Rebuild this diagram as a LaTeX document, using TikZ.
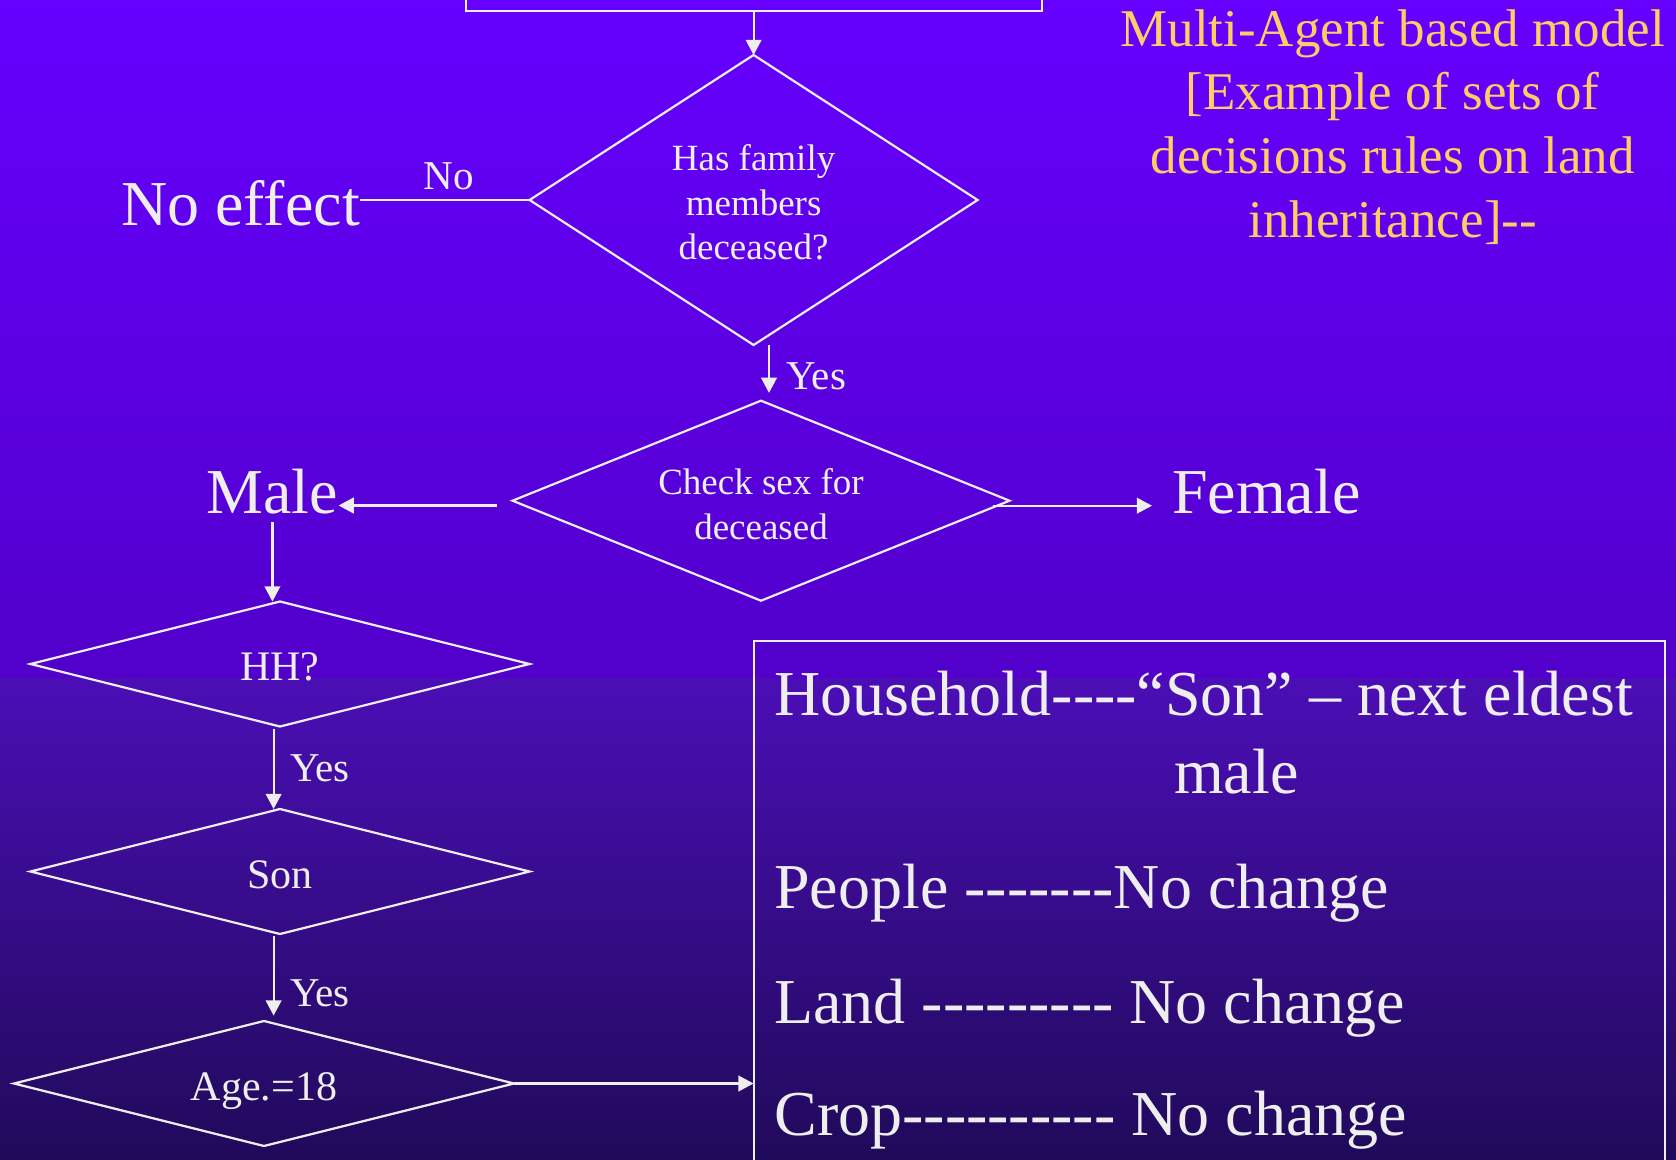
\documentclass[tikz,border=0pt]{standalone}
\usepackage{fontspec}
\setmainfont{Liberation Serif}[Ligatures=TeXOff]
\usetikzlibrary{shapes.geometric,arrows.meta}
\definecolor{fg}{HTML}{EEEEEE}
\definecolor{ttl}{HTML}{FFCC66}
\definecolor{bgA}{HTML}{6600FF}
\definecolor{bgB}{HTML}{6300F8}
\definecolor{bgC}{HTML}{5200CA}
\definecolor{bgD}{HTML}{4B0EB6}
\definecolor{bgE}{HTML}{200A5A}
\newcommand{\lowr}[2]{\raisebox{-#1}[\height][\depth]{#2}}
\begin{document}
\begin{tikzpicture}[x=0.5pt,y=-0.5pt,
  line/.style={draw=fg, line width=1.1pt},
  arr/.style={line, -{Triangle[length=7.6pt,width=7.8pt]}},
  dia/.style={diamond, draw=fg, line width=1.1pt, inner sep=0pt, outer sep=0pt, text=fg, align=center},
  lbl/.style={text=fg, inner sep=0pt, font=\fontsize{20.5}{24}\selectfont},
  big/.style={text=fg, inner sep=0pt, font=\fontsize{32}{38}\selectfont},
  box/.style={draw=fg, line width=1.1pt, inner sep=0pt, outer sep=0pt}
]
\useasboundingbox (0,0) rectangle (1676,1160);
\clip (0,0) rectangle (1676,1160);
\fill[top color=bgA, middle color=bgB, bottom color=bgC] (0,0) rectangle (1676,678);
\fill[top color=bgD, bottom color=bgE] (0,678) rectangle (1676,1160);

% top box (cut off)
\node[box, minimum width=288pt, minimum height=15pt] (topbox) at (753.6,-4) {};

% diamonds
\node[dia, shape aspect=1.545, minimum width=224pt, minimum height=145pt,
      font=\fontsize{18.5}{22.2}\selectfont] (d1) at (753.6,200) {\lowr{1.3pt}{Has family}\\\lowr{1.3pt}{members}\\\lowr{1.3pt}{deceased?}};
\node[dia, shape aspect=2.48, minimum width=248.5pt, minimum height=100pt,
      font=\fontsize{18.5}{22.4}\selectfont] (d2) at (761,500.7) {\lowr{1.6pt}{Check sex for}\\\lowr{1.6pt}{deceased}};
\node[dia, shape aspect=4, minimum width=249.5pt, minimum height=62.5pt,
      font=\fontsize{21}{25}\selectfont] (hh) at (280,664) {\lowr{1.6pt}{HH?}};
\node[dia, shape aspect=4, minimum width=249.5pt, minimum height=62.5pt,
      font=\fontsize{21}{25}\selectfont] (son) at (280,871.5) {\lowr{1.6pt}{Son}};
\node[dia, shape aspect=4, minimum width=250pt, minimum height=62.5pt,
      font=\fontsize{21}{25}\selectfont] (age) at (264,1083.5) {\lowr{3.6pt}{Age.=18}};

% outcome texts
\node[big, anchor=base] (noeff) at (240.5,226) {No effect};
\node[big, anchor=base] (male) at (272.4,513) {Male};
\node[big, anchor=base west] (female) at (1171.7,513) {Female};

% labels
\node[lbl, anchor=base] (no) at (449,190) {No};
\node[lbl, anchor=base west] (yes1) at (786,390) {Yes};
\node[lbl, anchor=base west] (yes2) at (289.7,781) {Yes};
\node[lbl, anchor=base west] (yes3) at (289.7,1006) {Yes};

% title
\node[text=ttl, align=center, inner sep=0pt, font=\fontsize{26.5}{31.9}\selectfont] (title)
  at (1392.7,127) {Multi-Agent based model\\{[}Example of sets of\\decisions rules on land\\inheritance]--};

% result box
\node[box, minimum width=455.85pt, minimum height=280pt] (res) at (1209.45,921.3) {};
\node[text=fg, align=left, inner sep=0pt, anchor=north west, font=\fontsize{32}{39}\selectfont] (restext)
  at (774,670.3) {Household----“Son” – next eldest\\\hspace*{199.8pt}male\\[18.5pt]People -------No change\\[18.5pt]Land --------- No change\\[17pt]Crop---------- No change};

% connectors
\coordinate (mstart) at ([xshift=-7.6pt,yshift=-2.4pt]d2.west);
\coordinate (fstart) at ([xshift=-8.3pt,yshift=-2.5pt]d2.east);
\draw[arr] (topbox.south) -- (d1.north);
\draw[line] (d1.west) -- (d1.west -| noeff.east);
\draw[arr] ([xshift=7.7pt]d1.south) -- ([xshift=4pt,yshift=3.9pt]d2.north);
\draw[arr] (mstart) -- (mstart -| male.east);
\draw[arr, shorten >=9.85pt] (fstart) -- (fstart -| female.west);
\draw[arr, shorten <=4pt] (male.south) -- (male.south |- hh.north);
\draw[arr] ([xshift=-3.2pt,yshift=-1pt]hh.south) -- ([xshift=-3.2pt]son.north);
\draw[arr] ([xshift=-3.2pt,yshift=-1pt]son.south) -- ([xshift=4.8pt,yshift=2.7pt]age.north);
\draw[arr] (age.east) -- (age.east -| res.west);
\end{tikzpicture}
\end{document}
